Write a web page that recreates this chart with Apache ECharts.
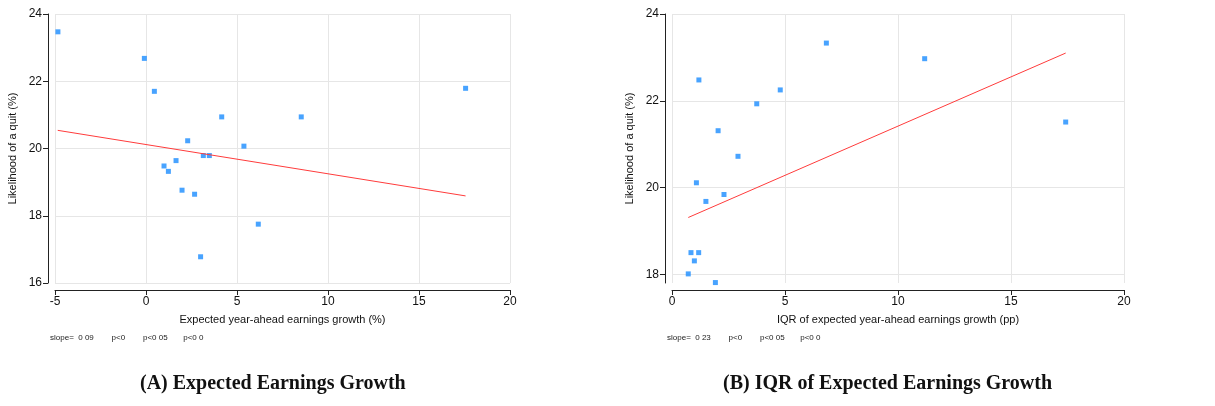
<!DOCTYPE html>
<html><head><meta charset="utf-8">
<script src="https://cdn.jsdelivr.net/npm/echarts@6/dist/echarts.min.js"></script>
<style>html,body{margin:0;background:#fff}#c{width:1215px;height:406px}</style>
</head><body><div id="c"></div>
<script>
// panel A: expected earnings growth vs quit likelihood
const growthX = [-4.84, -0.09, 0.46, 4.16, 8.53, 17.56, 2.29, 5.38, 3.15, 3.48, 1.65, 0.99, 1.23, 1.98, 2.67, 6.17, 3.00];
const growthY = [23.47, 22.68, 21.70, 20.94, 20.94, 21.79, 20.23, 20.07, 19.79, 19.79, 19.64, 19.48, 19.32, 18.76, 18.64, 17.75, 16.78];
const growthFit = [[-4.85, 20.54], [17.56, 18.59]];
// panel B: IQR of expected growth vs quit likelihood
const iqrX = [6.83, 11.18, 1.19, 4.79, 3.75, 17.42, 2.04, 2.92, 1.08, 2.30, 1.50, 0.84, 1.18, 0.99, 0.72, 1.92];
const iqrY = [23.33, 22.97, 22.48, 22.25, 21.93, 21.51, 21.31, 20.72, 20.11, 19.84, 19.68, 18.50, 18.50, 18.31, 18.01, 17.81];
const iqrFit = [[0.72, 19.31], [17.42, 23.10]];
const iqrYTicks = [18, 20, 22, 24];

const zip = (a, b) => a.map((v, i) => [v, b[i]]);
const font = 'Liberation Sans, Arial, sans-serif';
const axisTxt = { color: '#111', fontSize: 12, fontFamily: font };
const nameTxt = { color: '#111', fontSize: 11, fontFamily: font };
const grid = '#e6e6e6';

function xAx(idx, min, name) {
    return {
        gridIndex: idx, type: 'value', min: min, max: 20, interval: 5, offset: 7,
        name: name, nameLocation: 'middle', nameGap: 24, nameTextStyle: nameTxt,
        axisLine: { onZero: false, lineStyle: { color: '#222' } },
        axisTick: { lineStyle: { color: '#222' }, length: 5 },
        axisLabel: Object.assign({ margin: 6 }, axisTxt),
        splitLine: { lineStyle: { color: grid } }
    };
}
function yAx(idx, extra) {
    return Object.assign({
        gridIndex: idx, type: 'value', offset: 7,
        name: 'Likelihood of a quit (%)', nameLocation: 'middle', nameGap: 30,
        nameTextStyle: nameTxt,
        axisLine: { show: true, onZero: false, lineStyle: { color: '#222' } },
        axisTick: { show: true, lineStyle: { color: '#222' }, length: 5 },
        axisLabel: Object.assign({ margin: 6 }, axisTxt),
        splitLine: { lineStyle: { color: grid } }
    }, extra);
}
const dot = { type: 'scatter', symbol: 'rect', symbolSize: 5, itemStyle: { color: '#1a8cff' } };
const fit = { type: 'line', symbol: 'none', lineStyle: { color: '#ff3b3b', width: 1 } };
const cap = { fontSize: 20, fontWeight: 'bold', fontFamily: 'Liberation Serif, serif', fill: '#111' };

const chart = echarts.init(document.getElementById('c'));
chart.setOption({
    animation: false,
    grid: [
        { left: 55, right: 705, top: 14, bottom: 123 },
        { left: 672, right: 91, top: 14, bottom: 123 }
    ],
    xAxis: [xAx(0, -5, 'Expected year-ahead earnings growth (%)'),
            xAx(1, 0, 'IQR of expected year-ahead earnings growth (pp)')],
    yAxis: [
        yAx(0, { min: 16, max: 24, interval: 2 }),
        yAx(1, { min: 17.8, max: 24,
            axisTick: { show: true, lineStyle: { color: '#222' }, length: 5, customValues: iqrYTicks },
            axisLabel: Object.assign({ margin: 6, customValues: iqrYTicks }, axisTxt) })
    ],
    series: [
        Object.assign({ xAxisIndex: 0, yAxisIndex: 0, data: zip(growthX, growthY) }, dot),
        Object.assign({ xAxisIndex: 0, yAxisIndex: 0, data: growthFit }, fit),
        Object.assign({ xAxisIndex: 1, yAxisIndex: 1, data: zip(iqrX, iqrY) }, dot),
        Object.assign({ xAxisIndex: 1, yAxisIndex: 1, data: iqrFit }, fit)
    ],
    graphic: [
        { type: 'text', left: 50, top: 334, style: { text: 'slope=  0 09        p<0        p<0 05       p<0 0', fontSize: 8, fontFamily: font, fill: '#222' } },
        { type: 'text', left: 667, top: 334, style: { text: 'slope=  0 23        p<0        p<0 05       p<0 0', fontSize: 8, fontFamily: font, fill: '#222' } },
        { type: 'text', left: 140, top: 374, style: Object.assign({ text: '(A) Expected Earnings Growth' }, cap) },
        { type: 'text', left: 723, top: 374, style: Object.assign({ text: '(B) IQR of Expected Earnings Growth' }, cap) }
    ]
});
</script></body></html>
